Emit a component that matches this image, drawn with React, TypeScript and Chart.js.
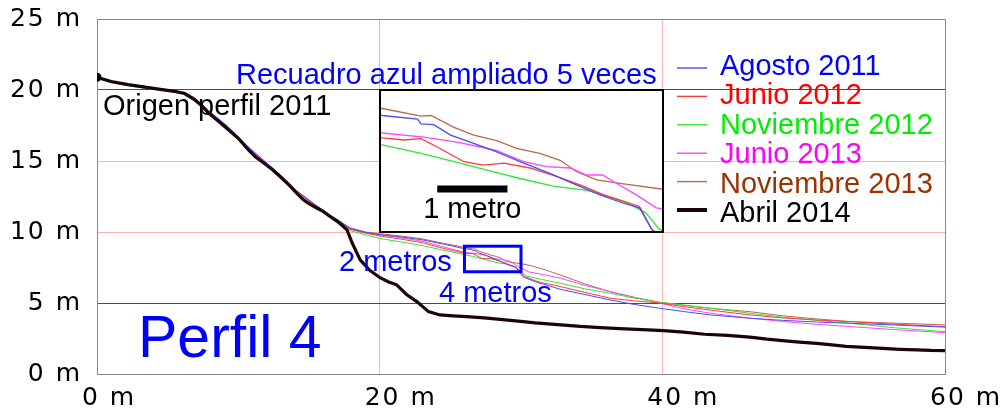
import React, { useEffect, useRef } from 'react';
import { Chart, registerables } from 'chart.js';

Chart.register(...registerables);

// ---------- data (metres) ----------
const agosto2011: [number, number][] = [
  [0, 20.9], [1, 20.62], [2.2, 20.42], [3.4, 20.25], [4.6, 20.08], [5.5, 19.95], [6.2, 19.82], [6.9, 19.45],
  [7.9, 18.55], [9.3, 17.4], [10.7, 16.0], [11.8, 15.05], [12.95, 14.05], [14.13, 12.9], [15.55, 11.85],
  [16.49, 11.2], [17.2, 10.75], [17.9, 10.25], [19, 9.98], [20, 9.82], [21.5, 9.65], [23, 9.45], [24.5, 9.15],
  [26.02, 8.82], [26.52, 8.77], [26.57, 8.7], [26.75, 8.69], [26.99, 8.54], [27.27, 8.44], [27.65, 8.3],
  [27.98, 8.16], [28.41, 7.99], [28.78, 7.83], [29.11, 7.69], [29.44, 7.57], [29.68, 7.5], [29.85, 7.2],
  [30.15, 6.84], [31, 6.5], [32.77, 5.97], [34.5, 5.6], [36.3, 5.22], [38, 4.9], [39.8, 4.63], [41.5, 4.4],
  [43.4, 4.16], [46.2, 3.93], [48.5, 3.78], [50.9, 3.66], [53.3, 3.57], [56.5, 3.45], [60, 3.3],
];

const junio2012: [number, number][] = [
  [0, 20.9], [1, 20.58], [2.2, 20.38], [3.4, 20.18], [4.6, 20.02], [5.5, 19.88], [6.2, 19.74], [6.9, 19.35],
  [7.9, 18.45], [9.3, 17.3], [10.7, 15.9], [11.8, 14.95], [12.95, 13.98], [14.13, 12.82], [15.55, 11.75],
  [16.49, 11.12], [17.2, 10.7], [17.9, 10.2], [19, 9.92], [20, 9.72], [21.5, 9.5], [23, 9.25], [24.5, 8.85],
  [26.02, 8.5], [26.33, 8.47], [26.57, 8.49], [26.8, 8.37], [27.18, 8.16], [27.46, 8.11], [27.75, 8.14],
  [28.12, 8.07], [28.5, 7.95], [28.88, 7.81], [29.16, 7.69], [29.44, 7.6], [29.68, 7.52], [29.85, 7.2],
  [30.3, 6.85], [31.2, 6.5], [32.77, 6.16], [34.5, 5.75], [36.3, 5.34], [38, 5.15], [39.8, 5.0], [41.5, 4.75],
  [43.4, 4.5], [46.2, 4.16], [48.5, 3.95], [50.9, 3.8], [53.3, 3.69], [56.5, 3.5], [60, 3.34],
];

const noviembre2012: [number, number][] = [
  [0, 20.85], [1, 20.5], [2.2, 20.3], [3.4, 20.12], [4.6, 19.98], [5.5, 19.85], [6.2, 19.7], [6.9, 19.28],
  [7.9, 18.3], [9.3, 17.15], [10.7, 15.75], [11.8, 14.8], [12.95, 13.85], [14.13, 12.7], [15.55, 11.65],
  [16.49, 11.05], [17.2, 10.6], [17.9, 10.1], [19, 9.8], [20, 9.55], [21.5, 9.3], [23, 9.05], [24.5, 8.72],
  [26.02, 8.4], [26.57, 8.28], [27.04, 8.16], [27.51, 8.04], [27.98, 7.92], [28.45, 7.81], [28.93, 7.75],
  [29.16, 7.69], [29.54, 7.55], [29.77, 7.43], [29.96, 7.2],
  [30.4, 6.9], [31.5, 6.65], [32.77, 6.4], [34.5, 6.0], [36.3, 5.69], [38, 5.35], [39.8, 5.05], [41.5, 4.85],
  [43.4, 4.63], [46.2, 4.28], [48.5, 4.0], [50.9, 3.78], [53.3, 3.57], [56.5, 3.25], [60, 2.98],
];

const junio2013: [number, number][] = [
  [0, 20.9], [1, 20.6], [2.2, 20.4], [3.4, 20.22], [4.6, 20.05], [5.5, 19.92], [6.2, 19.78], [6.9, 19.4],
  [7.9, 18.5], [9.3, 17.35], [10.7, 15.95], [11.8, 15.0], [12.95, 14.0], [14.13, 12.85], [15.55, 11.8],
  [16.49, 11.15], [17.2, 10.72], [17.9, 10.25], [19, 9.95], [20, 9.8], [21.5, 9.6], [23, 9.35], [24.5, 8.95],
  [26.02, 8.57], [26.61, 8.51], [27.08, 8.44], [27.42, 8.37], [27.65, 8.32], [28.03, 8.16], [28.36, 8.09],
  [28.69, 8.07], [28.93, 7.97], [29.16, 7.97], [29.3, 7.88], [29.63, 7.69], [29.92, 7.5], [29.99, 7.49],
  [30.5, 7.2], [31.6, 7.0], [32.77, 6.75], [34.5, 6.25], [36.3, 5.8], [38, 5.4], [39.8, 5.0], [41.5, 4.6],
  [43.4, 4.28], [46.2, 3.93], [48.5, 3.7], [50.9, 3.5], [53.3, 3.34], [56.5, 3.12], [60, 2.91],
];

const noviembre2013: [number, number][] = [
  [0, 20.9], [1, 20.62], [2.2, 20.4], [3.4, 20.22], [4.6, 20.05], [5.5, 19.92], [6.2, 19.8], [6.9, 19.42],
  [7.9, 18.5], [9.3, 17.35], [10.7, 15.95], [11.8, 15.0], [12.95, 14.02], [14.13, 12.88], [15.55, 11.82],
  [16.49, 11.18], [17.2, 10.75], [17.9, 10.3], [19, 10.0], [20, 9.88], [21.5, 9.72], [23, 9.52], [24.5, 9.2],
  [26.02, 8.92], [26.57, 8.81], [26.71, 8.82], [27.04, 8.65], [27.32, 8.54], [27.65, 8.46], [27.93, 8.35],
  [28.26, 8.28], [28.55, 8.18], [28.78, 8.02], [29.07, 7.9], [29.4, 7.85], [29.99, 7.77],
  [30.6, 7.65], [31.35, 7.45], [32.77, 6.98], [34.5, 6.35], [36.3, 5.8], [38, 5.4], [39.8, 5.05], [41.5, 4.85],
  [43.4, 4.63], [46.2, 4.39], [48.5, 4.1], [50.9, 3.88], [53.3, 3.69], [56.5, 3.58], [60, 3.46],
];

const abril2014: [number, number][] = [
  [0, 20.9], [1, 20.6], [2.2, 20.38], [3.4, 20.2], [4.6, 20.03], [5.5, 19.9], [6.2, 19.75], [6.9, 19.32],
  [7.4, 18.9], [7.9, 18.38], [8.6, 17.8], [9.3, 17.2], [10.0, 16.6], [10.7, 15.8], [11.2, 15.3], [11.8, 14.86],
  [12.4, 14.4], [12.95, 13.91], [13.5, 13.4], [14.13, 12.74], [14.6, 12.27], [15.0, 12.0], [15.55, 11.69],
  [16.0, 11.45], [16.49, 11.09], [17.0, 10.75], [17.43, 10.39], [17.69, 10.15], [18.05, 9.24], [18.62, 8.04],
  [19.3, 7.3], [20.0, 6.8], [20.6, 6.5], [21.2, 6.28], [21.9, 5.6], [22.63, 5.1], [23.45, 4.39], [24.27, 4.16],
  [25.2, 4.1], [26.17, 4.04], [27.4, 3.95], [28.52, 3.85], [29.8, 3.72], [31.0, 3.6], [32.6, 3.48], [34.2, 3.35],
  [35.6, 3.27], [37.0, 3.2], [38.6, 3.12], [40.08, 3.05], [41.5, 2.95], [43.0, 2.8], [44.6, 2.72], [46.2, 2.6],
  [47.4, 2.45], [48.5, 2.35], [49.7, 2.25], [50.9, 2.16], [52.0, 2.05], [53.0, 1.95], [54.3, 1.88], [55.6, 1.8],
  [56.8, 1.74], [58.0, 1.7], [59.0, 1.66], [60.0, 1.65],
];

const seriesLabels = ['Agosto 2011', 'Junio 2012', 'Noviembre 2012', 'Junio 2013', 'Noviembre 2013', 'Abril 2014'];
const seriesData = [agosto2011, junio2012, noviembre2012, junio2013, noviembre2013, abril2014];

const xTickValues = [0, 20, 40, 60];
const xTickLabels = ['0 m', '20 m', '40 m', '60 m'];
const yTickValues = [0, 5, 10, 15, 20, 25];
const yTickLabels = ['0 m', '5 m', '10 m', '15 m', '20 m', '25 m'];

// zoom window (blue box) in data units
const zoomX = [26, 30];
const zoomY = [7.17, 9.17];
const boxY = [7.2, 9.0];

const annotationTexts = ['Recuadro azul ampliado 5 veces', 'Origen perfil 2011', '2 metros', '4 metros', 'Perfil 4'];
const scaleBarText = '1 metro';

// ---------- styles ----------
const lineColors = ['#4a4aff', '#ff3a3a', '#30e830', '#ff45ff', '#b8694a', '#1c0505'];
const textColors = ['#0000ff', '#ff0000', '#00ee00', '#ff00ff', '#993300', '#000000'];
const lineWidths = [1, 1, 1, 1, 1, 3.2];
const xGridColors = ['#888888', 'rgb(255,176,176)', 'rgb(255,176,176)', '#888888'];
const yGridColors = ['#888888', 'rgb(255,0,0)', 'rgb(255,176,176)', 'rgb(255,176,176)', 'rgb(255,0,0)', '#888888'];
const SANS = '"Liberation Sans", Arial, sans-serif';
const TICK_FONT = 'DejaVu Sans';

const annotationStyle = [
  { x: 236, y: 83.5, color: '#0000ff', size: 29 },
  { x: 103, y: 115, color: '#000000', size: 29 },
  { x: 339, y: 271, color: '#0000ff', size: 29 },
  { x: 439, y: 302, color: '#0000ff', size: 29 },
  { x: 138, y: 357, color: '#0000ff', size: 59 },
];

const toXY = (arr: [number, number][]) => arr.map(([x, y]) => ({ x, y }));

const annotationPlugin = {
  id: 'annotations',
  beforeDraw(chart: any) {
    try { (chart.ctx as any).letterSpacing = '2px'; } catch (e) {}
  },
  afterDraw(chart: any) {
    const ctx = chart.ctx as CanvasRenderingContext2D;
    const xs = chart.scales.x;
    const ys = chart.scales.y;
    ctx.save();
    try { (ctx as any).letterSpacing = '0px'; } catch (e) {}
    // blue zoom rectangle
    const x1 = xs.getPixelForValue(zoomX[0]);
    const x2 = xs.getPixelForValue(zoomX[1]);
    const y1 = ys.getPixelForValue(boxY[1]);
    const y2 = ys.getPixelForValue(boxY[0]);
    ctx.strokeStyle = '#0000ff';
    ctx.lineWidth = 3;
    ctx.strokeRect(x1, y1, x2 - x1, y2 - y1);
    // texts
    ctx.textAlign = 'left';
    ctx.textBaseline = 'alphabetic';
    annotationTexts.forEach((t, i) => {
      const s = annotationStyle[i];
      ctx.font = `${s.size}px ${SANS}`;
      ctx.fillStyle = s.color;
      ctx.fillText(t, s.x, s.y);
    });
    // legend
    seriesLabels.forEach((label, i) => {
      const ly = 68 + 28.4 * i;
      ctx.beginPath();
      ctx.strokeStyle = lineColors[i];
      ctx.lineWidth = i === 5 ? 4 : 1.4;
      ctx.moveTo(677, ly);
      ctx.lineTo(707, ly);
      ctx.stroke();
      ctx.font = `29px ${SANS}`;
      ctx.fillStyle = textColors[i];
      ctx.fillText(label, 720, 74.5 + 29.5 * i);
    });
    ctx.restore();
  },
};

const insetPlugin = {
  id: 'insetScaleBar',
  afterDraw(chart: any) {
    const ctx = chart.ctx as CanvasRenderingContext2D;
    const xs = chart.scales.x;
    const a = xs.getPixelForValue(zoomX[0] + 0.8);
    const b = xs.getPixelForValue(zoomX[0] + 1.8);
    ctx.save();
    ctx.fillStyle = '#000';
    ctx.fillRect(a, 94.5, b - a, 7);
    ctx.font = `29px ${SANS}`;
    ctx.textAlign = 'center';
    ctx.textBaseline = 'alphabetic';
    ctx.fillText(scaleBarText, (a + b) / 2, 127);
    ctx.restore();
  },
};

export default function App() {
  const mainRef = useRef<HTMLCanvasElement>(null);
  const insetRef = useRef<HTMLCanvasElement>(null);

  useEffect(() => {
    const datasets = seriesData.map((d, i) => ({
      label: seriesLabels[i],
      data: toXY(d),
      borderColor: lineColors[i],
      backgroundColor: lineColors[i],
      borderWidth: lineWidths[i],
      pointRadius: i === 5 ? (c: any) => (c.dataIndex === 0 ? 4.5 : 0) : 0,
      pointBackgroundColor: '#000',
      pointBorderWidth: 0,
      tension: 0,
      fill: false,
      order: i === 5 ? 0 : i + 1,
    }));

    const main = new Chart(mainRef.current as HTMLCanvasElement, {
      type: 'line',
      data: { datasets },
      plugins: [annotationPlugin],
      options: {
        animation: false,
        responsive: false,
        devicePixelRatio: 1,
        events: [],
        layout: { padding: { top: 19, right: 62, left: 0, bottom: 0 } },
        plugins: { legend: { display: false }, tooltip: { enabled: false } },
        scales: {
          x: {
            type: 'linear',
            min: 0,
            max: 60,
            afterBuildTicks: (s: any) => { s.ticks = xTickValues.map((v) => ({ value: v })); },
            afterFit: (s: any) => {
              s.height = 39;
              s.paddingLeft = 0; s.paddingRight = 0; s.paddingTop = 0; s.paddingBottom = 0;
            },
            ticks: {
              callback: (_v: any, i: number) => xTickLabels[i],
              font: { family: TICK_FONT, size: 25 },
              color: '#000',
              align: 'start',
              labelOffset: -15,
              padding: 9,
              maxRotation: 0,
              autoSkip: false,
            },
            grid: { color: xGridColors, drawTicks: false, lineWidth: 1 },
            border: { color: '#888888', width: 1 },
          },
          y: {
            type: 'linear',
            min: 0,
            max: 25,
            afterBuildTicks: (s: any) => { s.ticks = yTickValues.map((v) => ({ value: v })); },
            afterFit: (s: any) => {
              s.width = 97;
              s.paddingLeft = 0; s.paddingRight = 0; s.paddingTop = 0; s.paddingBottom = 0;
            },
            ticks: {
              callback: (_v: any, i: number) => yTickLabels[i],
              font: { family: TICK_FONT, size: 25 },
              color: '#000',
              padding: 15,
              autoSkip: false,
            },
            grid: { color: yGridColors, drawTicks: false, lineWidth: 1 },
            border: { color: '#888888', width: 1 },
          },
        },
      } as any,
    });

    const insetDatasets = seriesData.slice(0, 5).map((d, i) => ({
      label: seriesLabels[i],
      data: toXY(d),
      borderColor: lineColors[i],
      borderWidth: 1.3,
      pointRadius: 0,
      tension: 0,
      fill: false,
      order: i,
    }));

    const inset = new Chart(insetRef.current as HTMLCanvasElement, {
      type: 'line',
      data: { datasets: insetDatasets },
      plugins: [insetPlugin],
      options: {
        animation: false,
        responsive: false,
        devicePixelRatio: 1,
        events: [],
        layout: { padding: 0 },
        plugins: { legend: { display: false }, tooltip: { enabled: false } },
        scales: {
          x: { type: 'linear', min: zoomX[0], max: zoomX[1], display: false },
          y: { type: 'linear', min: zoomY[0], max: zoomY[1], display: false },
        },
      } as any,
    });

    return () => {
      main.destroy();
      inset.destroy();
    };
  }, []);

  return (
    <div style={{ position: 'absolute', left: 0, top: 0, width: 1007, height: 413, background: '#fff' }}>
      <canvas
        ref={mainRef}
        width={1007}
        height={413}
        style={{ position: 'absolute', left: 0, top: 0, width: 1007, height: 413 }}
      />
      <div
        style={{
          position: 'absolute',
          left: 379,
          top: 89,
          width: 285,
          height: 144,
          border: '2px solid #000',
          boxSizing: 'border-box',
          background: '#fff',
        }}
      >
        <canvas ref={insetRef} width={281} height={140} style={{ display: 'block', width: 281, height: 140 }} />
      </div>
    </div>
  );
}
